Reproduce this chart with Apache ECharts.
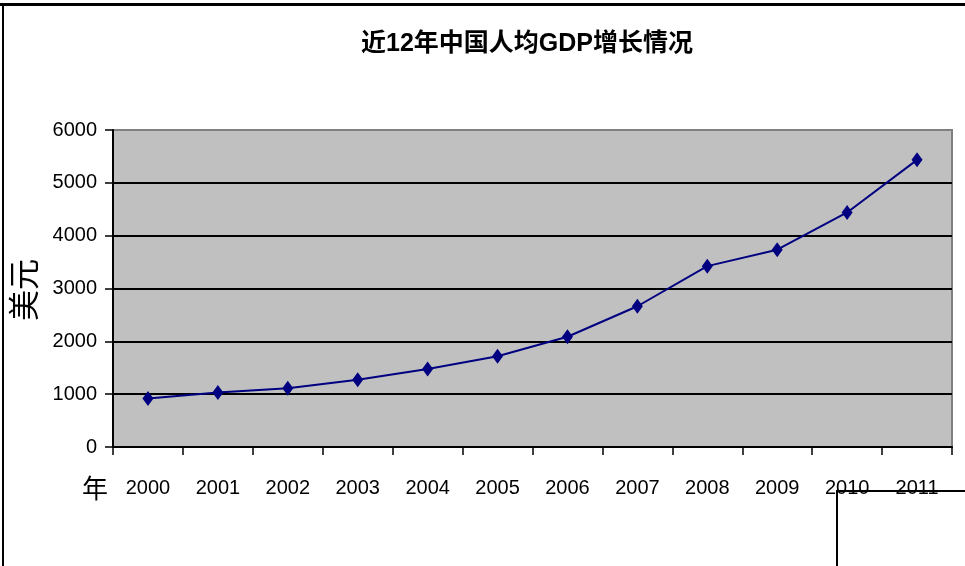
<!DOCTYPE html>
<html>
<head>
<meta charset="utf-8">
<script src="https://cdn.jsdelivr.net/npm/echarts@6/dist/echarts.min.js"></script>
<style>
html,body{margin:0;padding:0;background:#fff;}
#chart{width:965px;height:566px;}
</style>
</head>
<body>
<div id="chart"></div>
<script>
var titleText = '近12年中国人均GDP增长情况';
var yAxisName = '美元';
var xAxisName = '年';
var years = ['2000','2001','2002','2003','2004','2005','2006','2007','2008','2009','2010','2011'];
var gdpPerCapita = [918, 1031, 1110, 1275, 1476, 1718, 2086, 2664, 3423, 3734, 4439, 5435];
var yTicks = [0, 1000, 2000, 3000, 4000, 5000, 6000];

var labelFont = "'Liberation Sans', Arial, sans-serif";
var chart = echarts.init(document.getElementById('chart'), null, {renderer: 'canvas'});
chart.setOption({
  animation: false,
  backgroundColor: '#ffffff',
  title: {
    text: titleText,
    left: 522,
    textAlign: 'center',
    top: 27,
    textStyle: {
      fontFamily: "'Liberation Sans', 'Noto Sans CJK SC', sans-serif",
      fontSize: 25,
      fontWeight: 'bold',
      color: '#000'
    }
  },
  grid: {
    left: 113, right: 13, top: 130, bottom: 119,
    show: true,
    backgroundColor: '#c0c0c0',
    borderColor: '#808080',
    borderWidth: 2
  },
  xAxis: {
    type: 'category',
    data: years,
    boundaryGap: true,
    axisLine: {show: true, lineStyle: {color: '#000', width: 2}},
    axisTick: {show: true, alignWithLabel: false, length: 8, inside: false, lineStyle: {color: '#000', width: 1.5}},
    axisLabel: {
      margin: 31,
      fontSize: 20,
      fontFamily: labelFont,
      color: '#000',
      interval: 0
    },
    splitLine: {show: false}
  },
  yAxis: {
    type: 'value',
    min: yTicks[0],
    max: yTicks[yTicks.length - 1],
    interval: 1000,
    axisLine: {show: true, lineStyle: {color: '#000', width: 2}},
    axisTick: {show: true, length: 8, lineStyle: {color: '#000', width: 1.5}},
    axisLabel: {
      margin: 16,
      fontSize: 20,
      fontFamily: labelFont,
      color: '#000',
      formatter: function (v) { return String(v); }
    },
    splitLine: {
      show: true,
      lineStyle: {color: ['#000','#000','#000','#000','#000','#000','#808080'], width: 2}
    }
  },
  graphic: [
    {type: 'text', x: 23, y: 290, rotation: Math.PI / 2,
      style: {text: yAxisName, fontSize: 31, fontFamily: "'Noto Sans CJK SC', sans-serif", fill: '#000',
        textAlign: 'center', textVerticalAlign: 'middle'}},
    {type: 'text', x: 95, y: 488,
      style: {text: xAxisName, fontSize: 26, fontFamily: "'Noto Sans CJK SC', sans-serif", fill: '#000',
        textAlign: 'center', textVerticalAlign: 'middle'}},
    {type: 'rect', shape: {x: 0, y: 3, width: 965, height: 3}, style: {fill: '#000'}},
    {type: 'rect', shape: {x: 2, y: 3, width: 2, height: 563}, style: {fill: '#000'}},
    {type: 'rect', shape: {x: 836, y: 490, width: 129, height: 2}, style: {fill: '#000'}},
    {type: 'rect', shape: {x: 836, y: 490, width: 2, height: 76}, style: {fill: '#000'}}
  ],
  series: [{
    type: 'line',
    data: gdpPerCapita,
    symbol: 'diamond',
    symbolSize: [11, 15],
    showAllSymbol: true,
    lineStyle: {color: '#000080', width: 2},
    itemStyle: {color: '#000080'}
  }]
});
</script>
</body>
</html>
